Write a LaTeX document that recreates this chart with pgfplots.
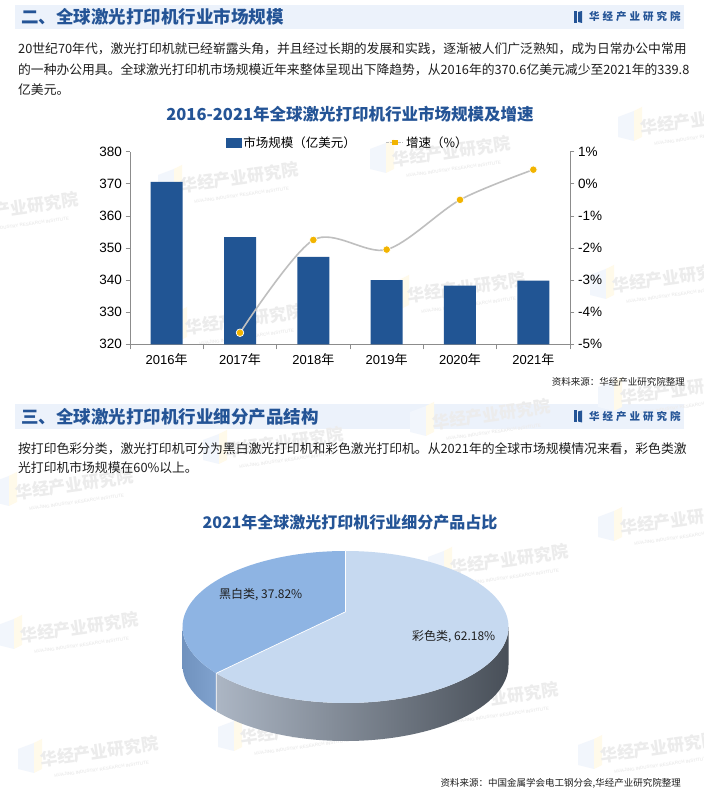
\documentclass[border=0pt]{standalone}
\usepackage{pgfplots}
\pgfplotsset{compat=1.18}
\usepackage{fontspec}
\setmainfont{Noto Sans CJK SC}
\newfontfamily\arial{Liberation Sans}
\XeTeXlinebreaklocale "zh"
\XeTeXlinebreakskip = 0pt plus 3pt minus 1pt
\newcommand\fs[1]{\fontsize{#1}{#1}\selectfont}
\definecolor{barblue}{RGB}{33,85,148}
\definecolor{titleblue}{RGB}{36,84,150}
\definecolor{bandc}{RGB}{236,242,251}
\definecolor{linegray}{RGB}{191,191,191}
\definecolor{mkyellow}{RGB}{242,180,0}
\definecolor{axgray}{RGB}{140,140,140}
\definecolor{txt}{RGB}{30,30,30}
\definecolor{colortop}{RGB}{198,217,240}
\definecolor{bwtop}{RGB}{142,180,227}
\definecolor{wmc}{RGB}{236,236,236}
\definecolor{wmblue}{RGB}{242,246,252}
\definecolor{wmyellow}{RGB}{255,250,234}
\definecolor{colside1}{RGB}{172,182,196}
\definecolor{colside2}{RGB}{72,79,88}
\definecolor{bwside1}{RGB}{112,146,190}
\definecolor{bwside2}{RGB}{128,162,206}

\newcommand\wm[2]{%
 \fill[wmblue] (#1pt-82pt,#2pt+8pt) -- (#1pt-66pt,#2pt+14pt) -- (#1pt-66pt,#2pt-16pt) -- (#1pt-82pt,#2pt-12pt) -- cycle;
 \fill[wmyellow] (#1pt-66pt,#2pt+14pt) -- (#1pt-58pt,#2pt+18pt) -- (#1pt-58pt,#2pt-12pt) -- (#1pt-66pt,#2pt-16pt) -- cycle;
 \node[rotate=8, align=center, text=wmc, inner sep=0pt, font=\fs{17}] at (#1pt,#2pt)
 {{\fs{17}\bfseries 华经产业研究院}\\[-4pt]{\arial\fs{4.5}\bfseries HUAJING INDUSTRY RESEARCH INSTITUTE}};}

\newcommand\logo[2]{%
 \fill[titleblue] (#1pt,#2pt+6pt) rectangle (#1pt+3pt,#2pt-6pt);
 \fill[titleblue] (#1pt+4pt,#2pt+5pt) -- (#1pt+8pt,#2pt+6pt) -- (#1pt+8pt,#2pt-6pt) -- (#1pt+4pt,#2pt-5pt) -- cycle;
 \node[anchor=west, inner sep=0pt, text=titleblue, font=\fs{10.5}\bfseries] at (#1pt+15pt,#2pt)
 {华\hspace{3pt}经\hspace{3pt}产\hspace{3pt}业\hspace{3pt}研\hspace{3pt}究\hspace{3pt}院};}

\begin{document}
\begin{tikzpicture}
\useasboundingbox (0pt,0pt) rectangle (704pt,793pt);
\fill[white] (0pt,0pt) rectangle (704pt,793pt);

% header bands
\fill[bandc] (15pt,788pt) rectangle (684pt,763.5pt);
\fill[bandc] (15pt,389pt) rectangle (684pt,364pt);

% watermarks
\wm{20}{580}
\wm{240}{610}
\wm{452}{636}
\wm{467}{500}
\wm{245}{468}
\wm{672}{510}
\wm{700}{668}
\wm{75}{303}
\wm{285}{345}
\wm{492}{373}
\wm{680}{398}
\wm{680}{268}
\wm{80}{160}
\wm{510}{228}
\wm{500}{90}
\wm{300}{58}
\wm{100}{36}
\wm{660}{40}

% headers
\node[anchor=west, inner sep=0pt, text=titleblue, font=\fs{17.5}\bfseries] at (21pt,776pt) {二、全球激光打印机行业市场规模};
\logo{574}{776}
\node[anchor=west, inner sep=0pt, text=titleblue, font=\fs{17.5}\bfseries] at (21pt,376.5pt) {三、全球激光打印机行业细分产品结构};
\logo{574}{376.5}

% body text 1
\node[anchor=west, inner sep=0pt, text=txt, font=\fs{12.8}] at (18pt,744pt)
 {\makebox[668pt][s]{20世纪70年代，激光打印机就已经崭露头角，并且经过长期的发展和实践，逐渐被人们广泛熟知，成为日常办公中常用}};
\node[anchor=west, inner sep=0pt, text=txt, font=\fs{12.8}] at (18pt,723pt)
 {\makebox[668pt][s]{的一种办公用具。全球激光打印机市场规模近年来整体呈现出下降趋势，从2016年的370.6亿美元减少至2021年的339.8}};
\node[anchor=west, inner sep=0pt, text=txt, font=\fs{12.8}] at (18pt,703pt) {亿美元。};

% chart title 1
\node[inner sep=0pt, text=titleblue, font=\fs{16.5}\bfseries] at (350pt,679pt) {2016-2021年全球激光打印机行业市场规模及增速};

% source 1
\node[anchor=east, inner sep=0pt, text=txt, font=\fs{9.5}] at (685pt,411pt) {资料来源：华经产业研究院整理};

% body text 2
\node[anchor=west, inner sep=0pt, text=txt, font=\fs{12.8}] at (18pt,344pt)
 {\makebox[668pt][s]{按打印色彩分类，激光打印机可分为黑白激光打印机和彩色激光打印机。从2021年的全球市场规模情况来看，彩色类激}};
\node[anchor=west, inner sep=0pt, text=txt, font=\fs{12.8}] at (18pt,325pt) {光打印机市场规模在60\%以上。};

% pie title
\node[inner sep=0pt, text=titleblue, font=\fs{16}\bfseries] at (350pt,271pt) {2021年全球激光打印机行业细分产品占比};

% source 2
\node[anchor=east, inner sep=0pt, text=txt, font=\fs{9.5}] at (681pt,10pt) {资料来源：中国金属学会电工钢分会,华经产业研究院整理};

% ---------------- bar chart ----------------
\begin{axis}[
  at={(130pt,448.7pt)}, anchor=south west,
  scale only axis, width=440pt, height=192.6pt,
  xmin=-0.5, xmax=5.5, ymin=320, ymax=380,
  ytick={320,330,...,380},
  axis x line*=bottom, axis y line*=left,
  axis line style={axgray, line width=0.7pt, -},
  tick style={axgray, line width=0.7pt},
  tick align=outside, major tick length=4.5pt, minor tick length=5pt,
  xtick={0,...,5},
  xticklabels={{\arial 2016}年,{\arial 2017}年,{\arial 2018}年,{\arial 2019}年,{\arial 2020}年,{\arial 2021}年},
  minor xtick={-0.5,0.5,...,5.5},
  major x tick style={draw=none},
  x tick label style={font=\fs{13}, text=black, yshift=-1pt},
  y tick label style={font=\arial\fs{13.5}, text=black},
  /pgf/number format/assume math mode=true,
]
\addplot[ybar, bar width=32pt, fill=barblue, draw=none]
  coordinates {(0,370.6) (1,353.4) (2,347.2) (3,340.0) (4,338.3) (5,339.8)};
\end{axis}

\begin{axis}[
  at={(130pt,448.7pt)}, anchor=south west,
  scale only axis, width=440pt, height=192.6pt,
  xmin=-0.5, xmax=5.5, ymin=-5, ymax=1,
  ytick={-5,-4,...,1},
  yticklabel={\pgfmathprintnumber{\tick}\%},
  axis x line=none, axis y line*=right,
  axis line style={axgray, line width=0.7pt, -},
  tick style={axgray, line width=0.7pt},
  tick align=outside, major tick length=4.5pt,
  y tick label style={font=\arial\fs{13.5}, text=black},
  /pgf/number format/assume math mode=true,
  legend style={at={(0.495,1.048)}, anchor=center, draw=none, fill=none,
    font=\fs{12.5}, inner sep=0pt,
    /tikz/every even column/.append style={column sep=28pt}},
  legend columns=2, legend cell align=left,
]
\addlegendimage{legend image code/.code={\fill[barblue] (0pt,-4.5pt) rectangle (15pt,4.5pt);}}
\addlegendentry{市场规模（亿美元）}
\addplot[smooth, color=linegray, line width=1.6pt,
  mark=*, mark size=3.8pt, mark options={fill=mkyellow, draw=white, line width=0.7pt},
  legend image code/.code={\draw[linegray, line width=1.3pt, dash pattern=on 2.5pt off 1.5pt] (0pt,0pt) -- (17pt,0pt);
     \fill[mkyellow] (6.5pt,-2pt) rectangle (10.5pt,2pt);}]
  coordinates {(1,-4.64) (2,-1.75) (3,-2.05) (4,-0.50) (5,0.44)};
\addlegendentry{增速（\%）}
\end{axis}

% ---------------- 3D pie ----------------
\pgfmathsetmacro\bw{37.82}
\pgfmathsetmacro\phiB{90+3.6*\bw}
\pgfmathsetmacro\uu{cos(\phiB)}
\pgfmathsetmacro\vv{sin(\phiB)}
\pgfmathsetmacro\be{0.2}
\pgfmathsetmacro\den{1+\be*\vv}
\pgfmathsetmacro\up{\uu*sqrt(1-\be*\be)/\den}
\pgfmathsetmacro\vp{(\vv+\be)/\den}
\pgfmathsetmacro\psiB{atan2(\vp,\up)}
\pgfmathsetmacro\psiBB{\psiB<0 ? \psiB+360 : \psiB}
\def\CX{345.5}\def\CY{166}\def\RX{163}\def\RY{76}\def\DP{38}
\pgfmathsetmacro\apexY{\CY+\be*\RY}
\pgfmathsetmacro\Bx{\CX+\RX*\up}
\pgfmathsetmacro\By{\CY+\RY*\vp}
\pgfmathsetmacro\topY{\CY+\RY}
\pgfmathsetmacro\leftX{\CX-\RX}
\begin{axis}[at={(0pt,0pt)}, anchor=south west, scale only axis,
  width=704pt, height=793pt, xmin=0, xmax=704, ymin=0, ymax=793,
  hide axis, clip=false]
  % sides
  \shade[left color=bwside1, right color=bwside2]
    (\leftX,\CY) arc[start angle=180, end angle=\psiBB, x radius=\RX pt, y radius=\RY pt]
    -- ++(0pt,-\DP pt) arc[start angle=\psiBB, end angle=180, x radius=\RX pt, y radius=\RY pt] -- cycle;
  \shade[left color=colside1, right color=colside2]
    (\Bx,\By) arc[start angle=\psiBB, end angle=360, x radius=\RX pt, y radius=\RY pt]
    -- ++(0pt,-\DP pt) arc[start angle=360, end angle=\psiBB, x radius=\RX pt, y radius=\RY pt] -- cycle;
  % tops
  \fill[bwtop] (\CX,\apexY) -- (\CX,\topY)
    arc[start angle=90, end angle=\psiBB, x radius=\RX pt, y radius=\RY pt] -- cycle;
  \fill[colortop] (\CX,\apexY) -- (\Bx,\By)
    arc[start angle=\psiBB, end angle=450, x radius=\RX pt, y radius=\RY pt] -- cycle;
  \draw[white, line width=0.7pt] (\CX,\topY) -- (\CX,\apexY) -- (\Bx,\By) -- ++(0pt,-\DP pt);
\end{axis}

\node[anchor=west, inner sep=0pt, text=txt, font=\fs{12}] at (219pt,198pt) {黑白类, 37.82\%};
\node[anchor=west, inner sep=0pt, text=txt, font=\fs{12}] at (412pt,156pt) {彩色类, 62.18\%};
\end{tikzpicture}
\end{document}
